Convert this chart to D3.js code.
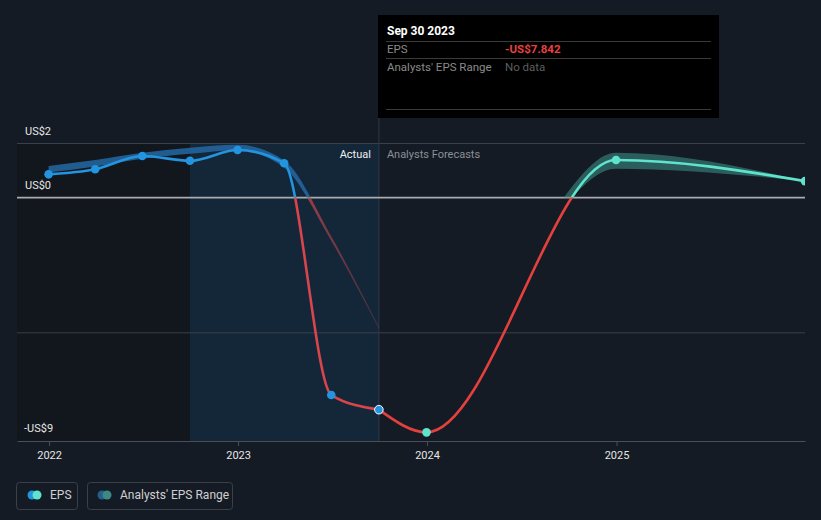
<!DOCTYPE html>
<html><head><meta charset="utf-8">
<script src="https://cdn.jsdelivr.net/npm/d3@7"></script>
<style>
html,body{margin:0;padding:0;background:#151b24;}
svg{display:block;font-family:Roboto,"Noto Sans",sans-serif;}
</style></head>
<body><svg id="c" width="821" height="520"></svg>
<script>
// ---- data ----
const actualDates = ["2021-12-31","2022-03-31","2022-06-30","2022-09-30","2022-12-31","2023-03-31","2023-06-30","2023-09-30"];
const actualEPS = [0.86, 1.05, 1.54, 1.36, 1.76, 1.27, -7.30, -7.842];

const pastRangeDates = ["2021-12-31","2022-03-31","2022-06-30","2022-09-30","2022-12-31","2023-03-31","2023-06-30","2023-09-30"];
const pastRangeLow  = [0.93, 1.15, 1.44, 1.62, 1.75, 1.11, -1.60, -4.86];
const pastRangeHigh = [1.17, 1.39, 1.66, 1.84, 1.95, 1.37, -1.44, -4.78];

const forecastDates = ["2023-09-30","2023-12-31","2024-12-31","2025-12-31"];
const forecastEPS = [-7.842, -8.68, 1.39, 0.61];

const fRangeDates = ["2024-09-15","2024-12-31","2025-12-31"];
const fRangeLow  = [-0.45, 1.07, 0.61];
const fRangeHigh = [-0.15, 1.66, 0.61];

const yTicks = [2, 0, -9];
const yTickLabels = ["US$2", "US$0", "-US$9"];
const gridValues = [2, -5];
const xTickYears = ["2022","2023","2024","2025"];

const tooltipDate = "Sep 30 2023";
const tooltipEPS = "-US$7.842";

// ---- setup ----
const parse = d3.timeParse("%Y-%m-%d");
const svg = d3.select("#c");
const W = 821, H = 520;
const pL = 17, pR = 805, pT = 143.5, pB = 441;

const x = d3.scaleTime().domain([parse("2021-10-31"), parse("2025-12-31")]).range([pL, pR]);
const y = d3.scaleLinear().domain([-9, 2]).range([pB, pT]);
const y0 = y(0);

const defs = svg.append("defs");
defs.append("clipPath").attr("id","above").append("rect").attr("x",0).attr("y",0).attr("width",pR).attr("height",y0);
defs.append("clipPath").attr("id","below").append("rect").attr("x",0).attr("y",y0).attr("width",pR).attr("height",H-y0);
defs.append("clipPath").attr("id","plot").append("rect").attr("x",0).attr("y",0).attr("width",pR).attr("height",H);

const fade = defs.append("linearGradient").attr("id","fade").attr("gradientUnits","userSpaceOnUse")
  .attr("x1",0).attr("x2",0).attr("y1",y0).attr("y2",y(-5));
fade.append("stop").attr("offset","0").attr("stop-color","#c8474c").attr("stop-opacity",0.7);
fade.append("stop").attr("offset","1").attr("stop-color","#c8474c").attr("stop-opacity",0.22);

// background
svg.append("rect").attr("width",W).attr("height",H).attr("fill","#151b24");

// shaded regions
const xHl0 = x(parse("2022-09-30")), xHl1 = x(parse("2023-09-30"));
svg.append("rect").attr("x",pL).attr("y",pT).attr("width",xHl0-pL).attr("height",pB-pT).attr("fill","#12161d");
svg.append("rect").attr("x",xHl0).attr("y",pT).attr("width",xHl1-xHl0).attr("height",pB-pT).attr("fill","#142739");

// grid
svg.selectAll("line.grid").data(gridValues).enter().append("line")
  .attr("x1",pL).attr("x2",pR).attr("y1",d=>y(d)).attr("y2",d=>y(d))
  .attr("stroke","#394049").attr("stroke-width",1);

// hover line
svg.append("line").attr("x1",xHl1).attr("x2",xHl1).attr("y1",118).attr("y2",pB)
  .attr("stroke","#2b3b4d").attr("stroke-width",1);

// zero line
svg.append("line").attr("x1",pL).attr("x2",pR).attr("y1",y0).attr("y2",y0)
  .attr("stroke","#a9abae").attr("stroke-width",1.6);

// x axis
const xAxis = d3.axisBottom(x).tickValues(xTickYears.map(d=>parse(d+"-01-01"))).tickFormat(d3.timeFormat("%Y")).tickSize(5).tickSizeOuter(0);
const gx = svg.append("g").attr("transform",`translate(0,${pB})`).call(xAxis);
gx.select(".domain").attr("stroke","#4a4f57");
gx.selectAll(".tick line").attr("stroke","#4a4f57");
gx.selectAll(".tick text").attr("fill","#e6e6e6").attr("font-size",11).attr("dy","0.9em").attr("font-family","Roboto,sans-serif");

// y labels
svg.selectAll("text.ylab").data(yTicks).enter().append("text")
  .attr("x",(d,i)=> i===2 ? 24 : 25).attr("y",d=>y(d)-9)
  .attr("fill","#e6e6e6").attr("font-size",11).text((d,i)=>yTickLabels[i]);

// past analyst band
const bandArea = d3.area().curve(d3.curveMonotoneX)
  .x(d=>x(d.date)).y0(d=>y(d.lo)).y1(d=>y(d.hi));
const pastBand = pastRangeDates.map((d,i)=>({date:parse(d),lo:pastRangeLow[i],hi:pastRangeHigh[i]}));
svg.append("path").datum(pastBand).attr("d",bandArea).attr("fill","#2568a3").attr("opacity",0.85).attr("clip-path","url(#above)");
svg.append("path").datum(pastBand).attr("d",bandArea).attr("fill","url(#fade)").attr("clip-path","url(#below)");

// forecast band
const fBand = fRangeDates.map((d,i)=>({date:parse(d),lo:fRangeLow[i],hi:fRangeHigh[i]}));
svg.append("path").datum(fBand).attr("d",bandArea).attr("fill","#3a8b84").attr("opacity",0.6).attr("clip-path","url(#above)");

// lines
const line = d3.line().curve(d3.curveMonotoneX).x(d=>x(d.date)).y(d=>y(d.v));
const act = actualDates.map((d,i)=>({date:parse(d),v:actualEPS[i]}));
const fc = forecastDates.map((d,i)=>({date:parse(d),v:forecastEPS[i]}));
function drawLine(data, colAbove, colBelow){
  svg.append("path").datum(data).attr("d",line).attr("fill","none").attr("stroke",colAbove).attr("stroke-width",2.6).attr("clip-path","url(#above)");
  svg.append("path").datum(data).attr("d",line).attr("fill","none").attr("stroke",colBelow).attr("stroke-width",2.6).attr("clip-path","url(#below)");
}
drawLine(act, "#2394e0", "#d9454c");
drawLine(fc, "#5fe3cd", "#e4403e");

// points
const pts = svg.append("g").attr("clip-path","url(#plot)");
pts.selectAll("circle.a").data(act).enter().append("circle")
  .attr("cx",d=>x(d.date)).attr("cy",d=>y(d.v)).attr("r",4.3)
  .attr("fill","#2394e0")
  .attr("stroke",(d,i)=> i===act.length-1 ? "#ffffff" : "none").attr("stroke-width",1);
pts.selectAll("circle.f").data(fc.slice(1)).enter().append("circle")
  .attr("cx",d=>x(d.date)).attr("cy",d=>y(d.v)).attr("r",4.3).attr("fill","#5fe3cd");

// Actual / Forecast labels
svg.append("text").attr("x",xHl1-8).attr("y",158).attr("text-anchor","end").attr("fill","#f0f0f0").attr("font-size",11).text("Actual");
svg.append("text").attr("x",xHl1+8).attr("y",158).attr("fill","#8b8f95").attr("font-size",11).text("Analysts Forecasts");

// tooltip
const tt = svg.append("g");
tt.append("rect").attr("x",378).attr("y",15).attr("width",341).attr("height",103).attr("fill","#000");
tt.append("text").attr("x",387).attr("y",35).attr("fill","#fff").attr("font-size",12).attr("font-weight","bold").text(tooltipDate);
[41,58,109].forEach(v=>tt.append("line").attr("x1",386).attr("x2",711).attr("y1",v+0.5).attr("y2",v+0.5).attr("stroke","#3a3a3a"));
tt.append("text").attr("x",387).attr("y",53).attr("fill","#8a8a8a").attr("font-size",11.5).text("EPS");
tt.append("text").attr("x",505).attr("y",53).attr("fill","#e8403e").attr("font-size",11.5).attr("font-weight","bold").text(tooltipEPS);
tt.append("text").attr("x",387).attr("y",71).attr("fill","#8a8a8a").attr("font-size",11.5).text("Analysts' EPS Range");
tt.append("text").attr("x",505).attr("y",71).attr("fill","#5e5e5e").attr("font-size",11.5).text("No data");

// legend
const lg = svg.append("g");
lg.append("rect").attr("x",16.5).attr("y",482.5).attr("width",61).attr("height",27).attr("rx",3).attr("fill","none").attr("stroke","#3b4049");
lg.append("circle").attr("cx",32).attr("cy",495).attr("r",4.5).attr("fill","#2394e0");
lg.append("circle").attr("cx",37).attr("cy",495).attr("r",4.5).attr("fill","#5fe3cd");
lg.append("text").attr("x",50).attr("y",499).attr("fill","#d0d0d0").attr("font-size",12).text("EPS");
lg.append("rect").attr("x",87.5).attr("y",482.5).attr("width",145).attr("height",27).attr("rx",3).attr("fill","none").attr("stroke","#3b4049");
lg.append("circle").attr("cx",102).attr("cy",495).attr("r",4.5).attr("fill","#235f8c");
lg.append("circle").attr("cx",107).attr("cy",495).attr("r",4.5).attr("fill","#3c8a83");
lg.append("text").attr("x",120).attr("y",499).attr("fill","#d0d0d0").attr("font-size",12).text("Analysts' EPS Range");
</script></body></html>
